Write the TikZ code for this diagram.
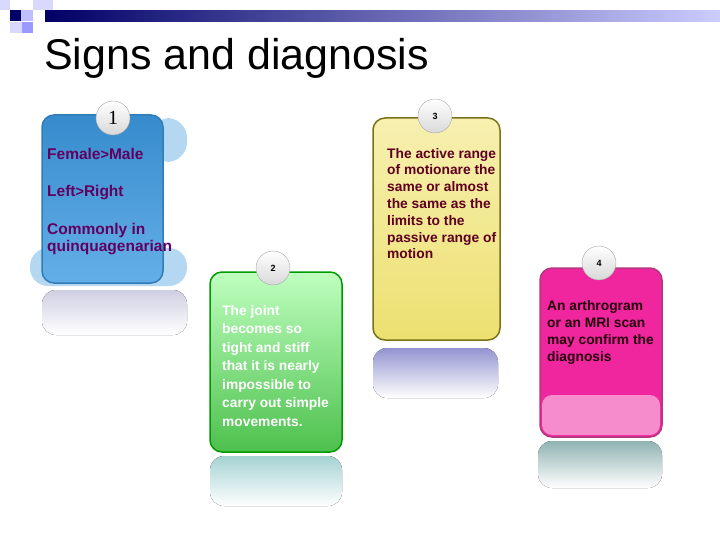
\documentclass[tikz,border=0pt]{standalone}
\usepackage{fontspec}
\setmainfont{Liberation Sans}
\newfontfamily\serifnum{Liberation Serif}
\definecolor{sky}{HTML}{3D9BE3}
\definecolor{skyl}{HTML}{B5D8F2}
\definecolor{yel}{HTML}{ECE070}
\definecolor{yell}{HTML}{F7F0B0}
\begin{document}
\begin{tikzpicture}[x=1pt,y=-1pt,
  card/.style={rounded corners=12pt,line width=1.5pt},
  refl/.style={rounded corners=14pt,draw=none},
  num/.style={circle,minimum size=34pt,inner sep=0pt,draw=gray!70,top color=white,bottom color=gray!30,font=\bfseries\small},
  body/.style={anchor=north west,align=left,font=\bfseries\fontsize{13.8}{17.5}\selectfont,inner sep=0pt}]
\useasboundingbox (0,0) rectangle (720,540);
% header
\fill[left color=blue!40!black,right color=blue!20!white] (45,11) rectangle (720,22);
\fill[blue!40!black] (10,10) rectangle (21,21);
\fill[blue!15] (0,0) rectangle (10,10);
\fill[blue!15] (33,0) rectangle (53,10);
\fill[blue!25] (21,10) rectangle (33,21);
\fill[blue!40] (22,22) rectangle (33,33);
\fill[blue!15] (10,22) rectangle (22,33);
\node[anchor=base west,font=\fontsize{43}{48}\selectfont,inner sep=0pt] (title) at (44,70) {Signs and diagnosis};
% box 1
\fill[skyl,rounded corners=20pt] (150,118) rectangle (187,162);
\fill[skyl,rounded corners=18pt] (30,248) rectangle (187,286);
\fill[top color=blue!25!gray!30,bottom color=white,refl] (42,290) rectangle (187,335);
\draw[card,draw=sky!80!black,top color=sky!90!black,bottom color=sky!80!white] (42,115) rectangle (163,283);
\node[num,font=\serifnum\fontsize{20}{20}\selectfont] (n1) at (113,118) {1};
\node[body,font=\bfseries\fontsize{15.5}{17.5}\selectfont,text=violet!75!black] (t1) at (47,148) {Female{\Large>}Male\\[20pt]Left{\Large>}Right\\[20pt]Commonly in\\quinquagenarian};
% box 2
\fill[top color=teal!35,bottom color=white,refl] (210,456) rectangle (342,506);
\draw[card,draw=green!60!black,top color=green!25!white,bottom color=green!65!black!70] (210,272) rectangle (342,452);
\node[num] (n2) at (273,268) {2};
\node[body,font=\bfseries\fontsize{13.8}{18.5}\selectfont,text=white] (t2) at (222,305) {The joint\\becomes so\\tight and stiff\\that it is nearly\\impossible to\\carry out simple\\movements.};
% box 3
\fill[top color=blue!40!gray!60,bottom color=white,refl] (373,348) rectangle (498,398);
\draw[card,draw=olive!80!black,top color=yell,bottom color=yel] (373,118) rectangle (500,340);
\node[num] (n3) at (435,116) {3};
\node[body,font=\bfseries\fontsize{13.8}{16.8}\selectfont,text=purple!50!black] (t3) at (387,148) {The active range\\of motionare the\\same or almost\\the same as the\\limits to the\\passive range of\\motion};
% box 4
\fill[top color=teal!45!gray!60,bottom color=white,refl] (538,441) rectangle (662,488);
\draw[card,draw=magenta!70!black,fill=magenta!85] (540,268) rectangle (662,437);
\fill[magenta!45,rounded corners=10pt] (542,395) rectangle (660,435);
\node[num] (n4) at (599,263) {4};
\node[body,font=\bfseries\fontsize{13.8}{17}\selectfont,text=black!80!purple] (t4) at (547,300) {An arthrogram\\or an MRI scan\\may confirm the\\diagnosis};
\end{tikzpicture}
\end{document}
